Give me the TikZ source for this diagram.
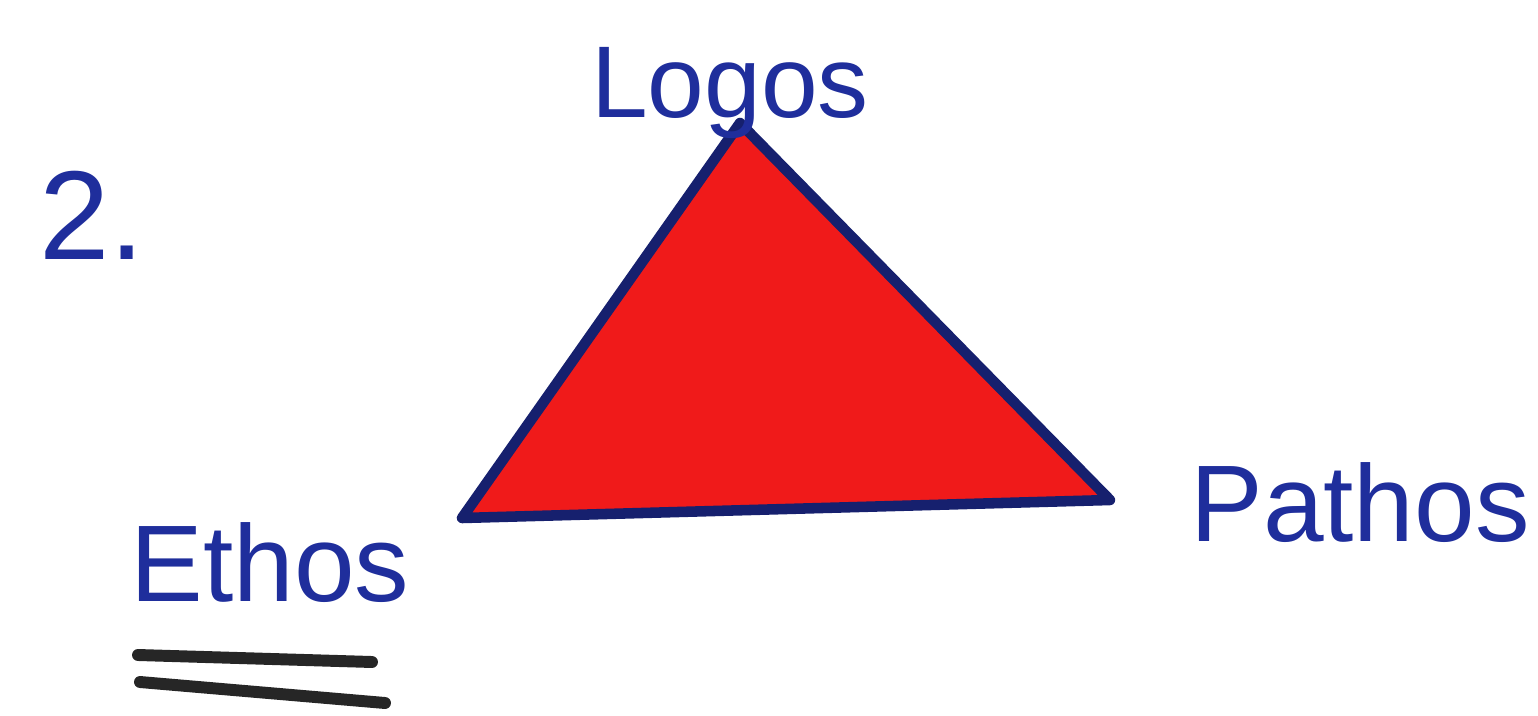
\documentclass[tikz,border=0pt]{standalone}
\usepackage{fontspec}
\setmainfont{Liberation Sans}
\usepackage{xcolor}
\definecolor{inkblue}{HTML}{1F2E9C}
\definecolor{inknavy}{HTML}{16206E}
\definecolor{markerred}{HTML}{F01A1A}
\usepackage{tikz}
\usetikzlibrary{calc}

\begin{document}
\begin{tikzpicture}[
  word/.style={text=inkblue,font=\fontsize{31}{36}\selectfont,inner sep=0pt},
  edge/.style={draw=inknavy,line width=3pt,line join=round},
  underl/.style={draw=black!85,line width=3.4pt,line cap=round}]
\useasboundingbox (0,0) rectangle (15.38,7.15);
% corners of the triangle
\coordinate (top) at (7.40,5.92);
\coordinate (left) at (4.62,1.97);
\coordinate (right) at (11.10,2.15);
\filldraw[edge,fill=markerred] (top)--(right)--(left)--cycle;
% labels
\node[word,font=\fontsize{29}{34}\selectfont] (logos) at (7.30,6.22) {Logos};
\node[word] (pathos) at (13.60,2.12) {Pathos};
\node[word] (ethos) at (2.70,1.52) {Ethos};
\node[word,font=\fontsize{36}{40}\selectfont] (num) at (0.92,5.00) {2.};
% double underline
\coordinate (u1a) at (1.38,0.60);
\coordinate (u1b) at (3.72,0.53);
\coordinate (u2a) at (1.40,0.33);
\coordinate (u2b) at (3.85,0.12);
\draw[underl] (u1a)--(u1b);
\draw[underl] (u2a)--(u2b);
\end{tikzpicture}
\end{document}
